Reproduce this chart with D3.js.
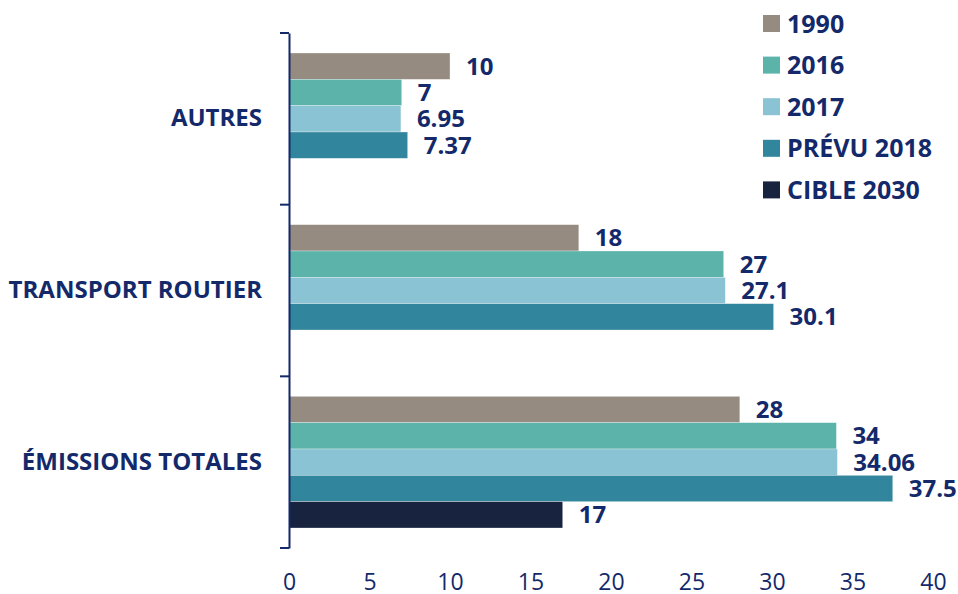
<!DOCTYPE html>
<html>
<head>
<meta charset="utf-8">
<script src="https://cdn.jsdelivr.net/npm/d3@7"></script>
<style>
  body { margin: 0; background: #fff; }
  svg text { font-family: "Open Sans", sans-serif; }
</style>
</head>
<body>
<svg id="chart"></svg>
<script>
// data
var categories = ['AUTRES', 'TRANSPORT ROUTIER', 'ÉMISSIONS TOTALES']
var seriesNames = ['1990', '2016', '2017', 'PRÉVU 2018', 'CIBLE 2030']
var seriesColors = ['#968B80', '#5BB3AA', '#8AC4D4', '#31869D', '#17233F']
var values1990 = [10, 18, 28]
var values2016 = [7, 27, 34]
var values2017 = [6.95, 27.1, 34.06]
var values2018 = [7.37, 30.1, 37.5]
var values2030 = [null, null, 17]
var xTicks = [0, 5, 10, 15, 20, 25, 30, 35, 40]

var allValues = [values1990, values2016, values2017, values2018, values2030]
var navy = '#13296A'

var svgWidth = 958
var svgHeight = 594

var svg = d3.select('#chart')
  .attr('width', svgWidth)
  .attr('height', svgHeight)

var x = d3.scaleLinear()
  .domain([0, 40])
  .range([289, 933])

var y = d3.scaleBand()
  .domain(categories)
  .range([33, 548])

var barPad = 20
var yInner = d3.scaleBand()
  .domain(seriesNames)
  .range([barPad, y.bandwidth() - barPad])

// bars
allValues.forEach((vals, si) => {
  let rows = categories.map((c, ci) => ({ cat: c, value: vals[ci] }))
    .filter(d => d.value !== null)

  svg.selectAll('.bar-' + si)
    .data(rows)
    .enter().append('rect')
    .attr('class', 'bar-' + si)
    .attr('x', x(0))
    .attr('y', d => y(d.cat) + yInner(seriesNames[si]))
    .attr('width', d => x(d.value) - x(0))
    .attr('height', yInner.bandwidth())
    .attr('fill', seriesColors[si])
    .attr('stroke', '#ffffff')
    .attr('stroke-opacity', 0.5)
    .attr('stroke-width', 0.6)

  svg.selectAll('.lab-' + si)
    .data(rows)
    .enter().append('text')
    .attr('class', 'lab-' + si)
    .attr('x', d => x(d.value) + 16)
    .attr('y', d => y(d.cat) + yInner(seriesNames[si]) + yInner.bandwidth() / 2)
    .attr('dy', '0.36em')
    .style('font-size', '24px')
    .style('font-weight', 'bold')
    .attr('fill', navy)
    .text(d => d.value)
})

// y axis
var yAxis = d3.axisLeft(y)
  .tickValues([])
  .tickSizeOuter(0)

var yAxisG = svg.append('g')
  .attr('transform', 'translate(' + x(0) + ',0)')
  .call(yAxis)
yAxisG.select('.domain').attr('stroke', navy).attr('stroke-width', 2)

// tick marks between categories
var bounds = categories.map(c => y(c)).concat([y.range()[1]])
svg.selectAll('.ytick')
  .data(bounds)
  .enter().append('line')
  .attr('x1', x(0) - 9)
  .attr('x2', x(0))
  .attr('y1', d => d)
  .attr('y2', d => d)
  .attr('stroke', navy)
  .attr('stroke-width', 2)

svg.selectAll('.cat')
  .data(categories)
  .enter().append('text')
  .attr('x', 262)
  .attr('y', d => y(d) + y.bandwidth() / 2 - 1)
  .attr('dy', '0.36em')
  .attr('text-anchor', 'end')
  .style('font-size', '24px')
  .style('font-weight', 'bold')
  .attr('fill', navy)
  .text(d => d)

// x axis
var xAxis = d3.axisBottom(x)
  .tickValues(xTicks)
  .tickSize(0)
  .tickPadding(0)

var xAxisG = svg.append('g')
  .attr('transform', 'translate(0,574)')
  .call(xAxis)
xAxisG.select('.domain').remove()
xAxisG.selectAll('text')
  .style('font-family', '"Open Sans", sans-serif')
  .style('font-size', '23px')
  .attr('fill', navy)

// legend
var legend = svg.append('g')
seriesNames.forEach((name, i) => {
  let cy = 23.5 + i * 41.6
  legend.append('rect')
    .attr('x', 763)
    .attr('y', cy - 8.5)
    .attr('width', 17)
    .attr('height', 17)
    .attr('fill', seriesColors[i])
  legend.append('text')
    .attr('x', 787)
    .attr('y', cy)
    .attr('dy', '0.36em')
    .style('font-size', '25px')
    .style('font-weight', 'bold')
    .attr('fill', navy)
    .text(name)
})
</script>
</body>
</html>
